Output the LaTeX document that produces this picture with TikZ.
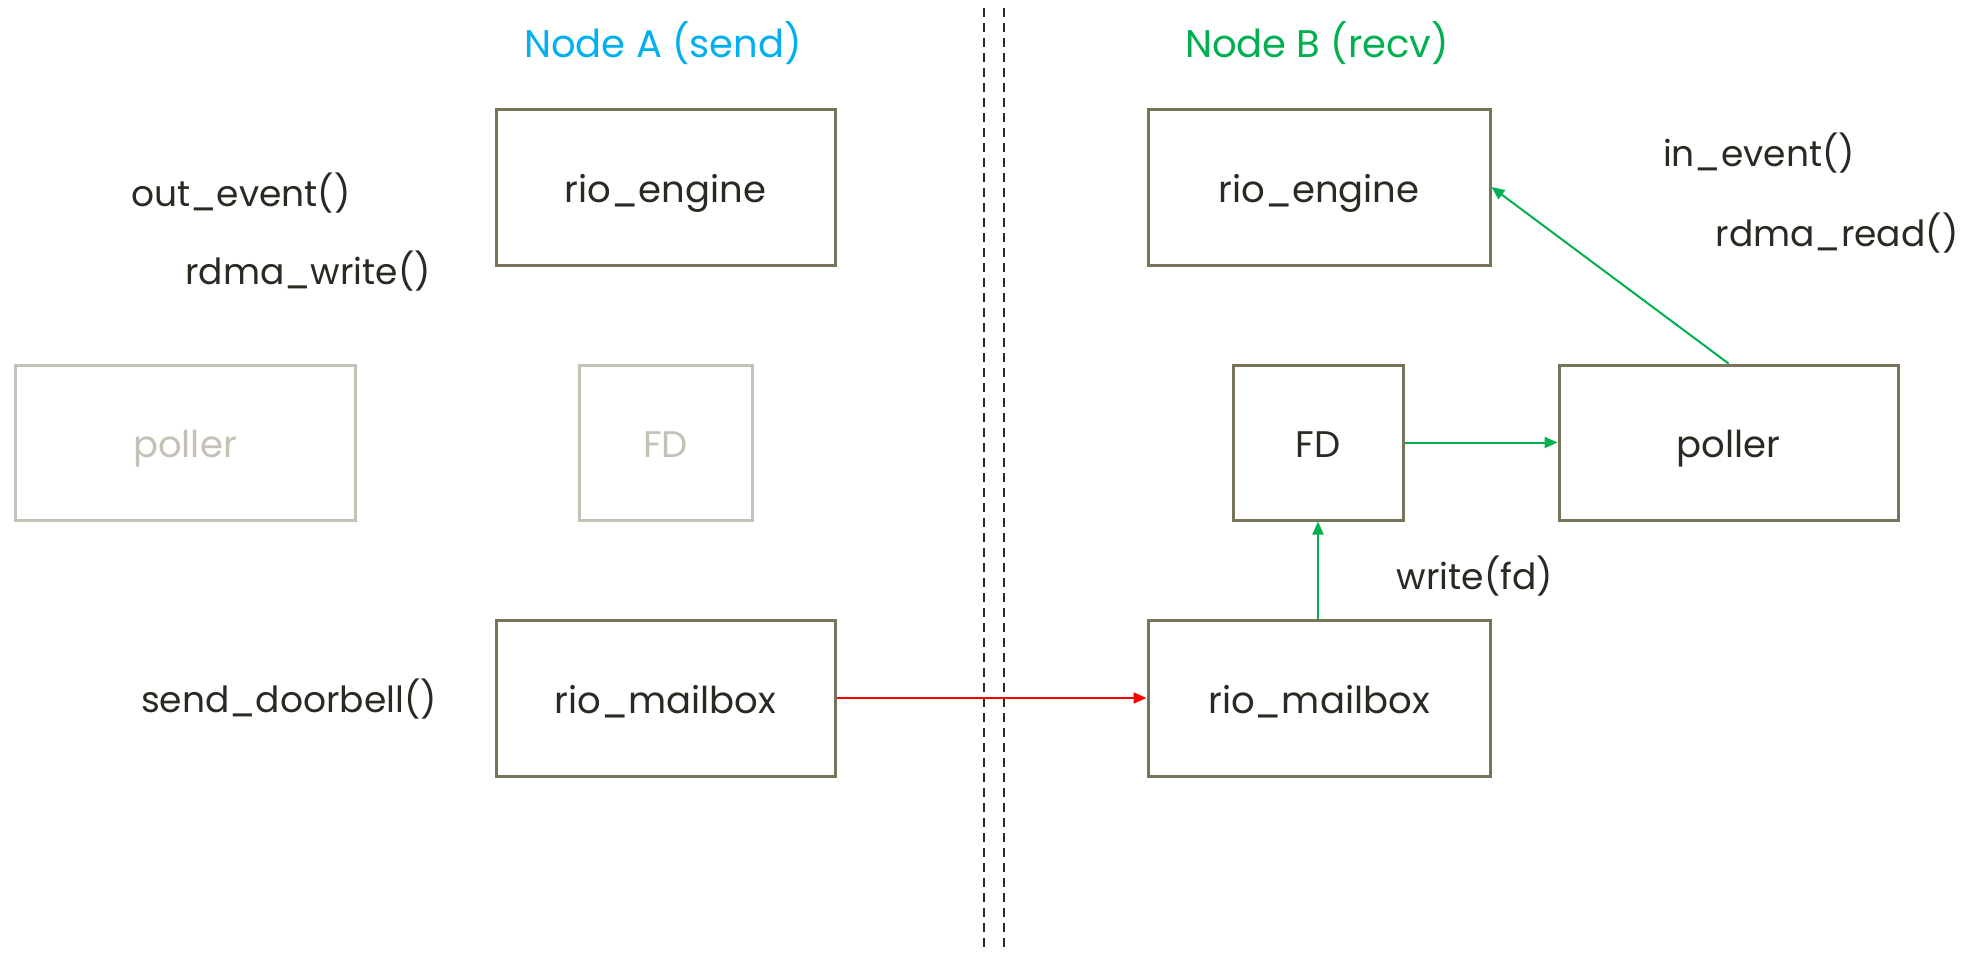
\documentclass[tikz,border=0pt]{standalone}
\usepackage{fontspec}
\setmainfont{Poppins}
\usetikzlibrary{arrows.meta}
\definecolor{boxline}{HTML}{77745A}
\definecolor{ghost}{HTML}{C5C1B6}
\definecolor{ink}{HTML}{2A2922}
\definecolor{sendblue}{HTML}{00B0F0}
\definecolor{recvgreen}{HTML}{00B050}
\definecolor{bellred}{HTML}{FF0000}
\begin{document}
\begin{tikzpicture}[x=1pt,y=-1pt,
  txt/.style={font=\fontsize{36}{44}\selectfont, text=ink, inner sep=0pt},
  box/.style={font=\fontsize{37}{44}\selectfont, text=ink, inner sep=0pt,
    text height=30pt, text depth=0pt, draw=boxline, line width=3pt, rectangle},
  ghostbox/.style={box, draw=ghost, text=ghost},
  title/.style={font=\fontsize{38.5}{46}\selectfont, inner sep=0pt},
  flow/.style={line width=2pt, -{Triangle[length=13pt,width=11pt]}},
  divider/.style={draw=ink, line width=1.6pt, dash pattern=on 9pt off 6pt}]
\useasboundingbox (0,0) rectangle (1968,953);

% titles
\node[title, text=sendblue] (tA) at (663,43) {Node A (send)};
\node[title, text=recvgreen] (tB) at (1317,43) {Node B (recv)};

% divider between the two nodes
\coordinate (d1t) at (984,8);  \coordinate (d1b) at (984,953);
\coordinate (d2t) at (1004,8); \coordinate (d2b) at (1004,953);
\draw[divider] (d1t) -- (d1b);
\draw[divider] (d2t) -- (d2b);

% sender side
\node[box, minimum width=339pt, minimum height=156pt] (aEngine) at (665.5,187) {rio\_engine};
\node[ghostbox, minimum width=340pt, minimum height=155pt] (aPoller) at (185,442.5) {poller};
\node[ghostbox, minimum width=173pt, minimum height=155pt] (aFD) at (665.5,442.5) {FD};
\node[box, minimum width=339pt, minimum height=156pt] (aMail) at (665.5,698) {rio\_mailbox};

\node[txt] (lOut) at (241,193) {out\_event()};
\node[txt] (lWrite) at (308,271) {rdma\_write()};
\node[txt] (lBell) at (289,699) {send\_doorbell()};

% receiver side
\node[box, minimum width=342pt, minimum height=156pt] (bEngine) at (1319,187) {rio\_engine};
\node[box, minimum width=170pt, minimum height=155pt] (bFD) at (1318,442.5) {FD};
\node[box, minimum width=339pt, minimum height=155pt] (bPoller) at (1728.5,442.5) {poller};
\node[box, minimum width=342pt, minimum height=156pt] (bMail) at (1319,698) {rio\_mailbox};

\node[txt] (lIn) at (1759,153) {in\_event()};
\node[txt] (lRead) at (1837,233) {rdma\_read()};
\node[txt] (lFd) at (1475,576) {write(fd)};

% flows
\draw[flow, draw=bellred, fill=bellred] (aMail.east) -- (bMail.west);
\draw[flow, draw=recvgreen, fill=recvgreen] (bMail.north -| bFD.south) -- (bFD.south);
\draw[flow, draw=recvgreen, fill=recvgreen] (bFD.east) -- (bPoller.west);
\draw[flow, draw=recvgreen, fill=recvgreen] (bPoller.north) -- (bEngine.east);
\end{tikzpicture}
\end{document}
